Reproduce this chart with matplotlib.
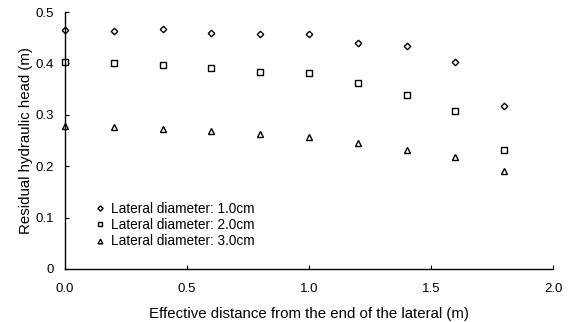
import numpy as np
import matplotlib.pyplot as plt

plt.rcParams['font.family'] = ['Liberation Sans', 'DejaVu Sans']

# Data
distance = [0.0, 0.2, 0.4, 0.6, 0.8, 1.0, 1.2, 1.4, 1.6, 1.8]
head_d10 = [0.465, 0.463, 0.466, 0.460, 0.457, 0.458, 0.440, 0.433, 0.403, 0.317]
head_d20 = [0.403, 0.401, 0.396, 0.392, 0.384, 0.382, 0.361, 0.338, 0.308, 0.232]
head_d30 = [0.278, 0.276, 0.272, 0.269, 0.263, 0.256, 0.245, 0.232, 0.217, 0.191]

labels = ["Lateral diameter: 1.0cm", "Lateral diameter: 2.0cm", "Lateral diameter: 3.0cm"]
xticks = [0.0, 0.5, 1.0, 1.5, 2.0]
xticklabels = ["0.0", "0.5", "1.0", "1.5", "2.0"]
yticks = [0, 0.1, 0.2, 0.3, 0.4, 0.5]
yticklabels = ["0", "0.1", "0.2", "0.3", "0.4", "0.5"]

fig = plt.figure(figsize=(5.68, 3.22), dpi=100)
ax = fig.add_axes([0.1144, 0.1646, 0.8592, 0.7981])

ax.plot(distance, head_d10, linestyle='none', marker='D', markersize=3.3, mfc='white',
        mec='black', mew=1.0, label=labels[0], clip_on=False)
ax.plot(distance, head_d20, linestyle='none', marker='s', markersize=3.8, mfc='white',
        mec='black', mew=1.0, label=labels[1], clip_on=False)
ax.plot(distance, head_d30, linestyle='none', marker='^', markersize=4.2, mfc='white',
        mec='black', mew=1.0, label=labels[2], clip_on=False)

ax.set_xlim(0, 2.0)
ax.set_ylim(0, 0.5)
ax.set_xticks(xticks)
ax.set_xticklabels(xticklabels)
ax.set_yticks(yticks)
ax.set_yticklabels(yticklabels)

for s in ['top', 'right']:
    ax.spines[s].set_visible(False)
ax.spines['left'].set_linewidth(1.0)
ax.spines['bottom'].set_linewidth(1.0)

ax.tick_params(axis='x', direction='in', length=3, width=0.8, pad=10, labelsize=9.5)
ax.tick_params(axis='y', direction='in', length=3, width=0.8, pad=8, labelsize=9.5)

ax.set_xlabel("Effective distance from the end of the lateral (m)", fontsize=10.8, labelpad=9)
ax.set_ylabel("Residual hydraulic head (m)", fontsize=10.8, labelpad=2)

ax.legend(loc='upper left', bbox_to_anchor=(0.06, 0.26), frameon=False, fontsize=9.8,
          handlelength=0.8, handletextpad=0.4, labelspacing=0.15, borderaxespad=0,
          borderpad=0, markerscale=0.8)

fig.savefig("out.png", dpi=100)
